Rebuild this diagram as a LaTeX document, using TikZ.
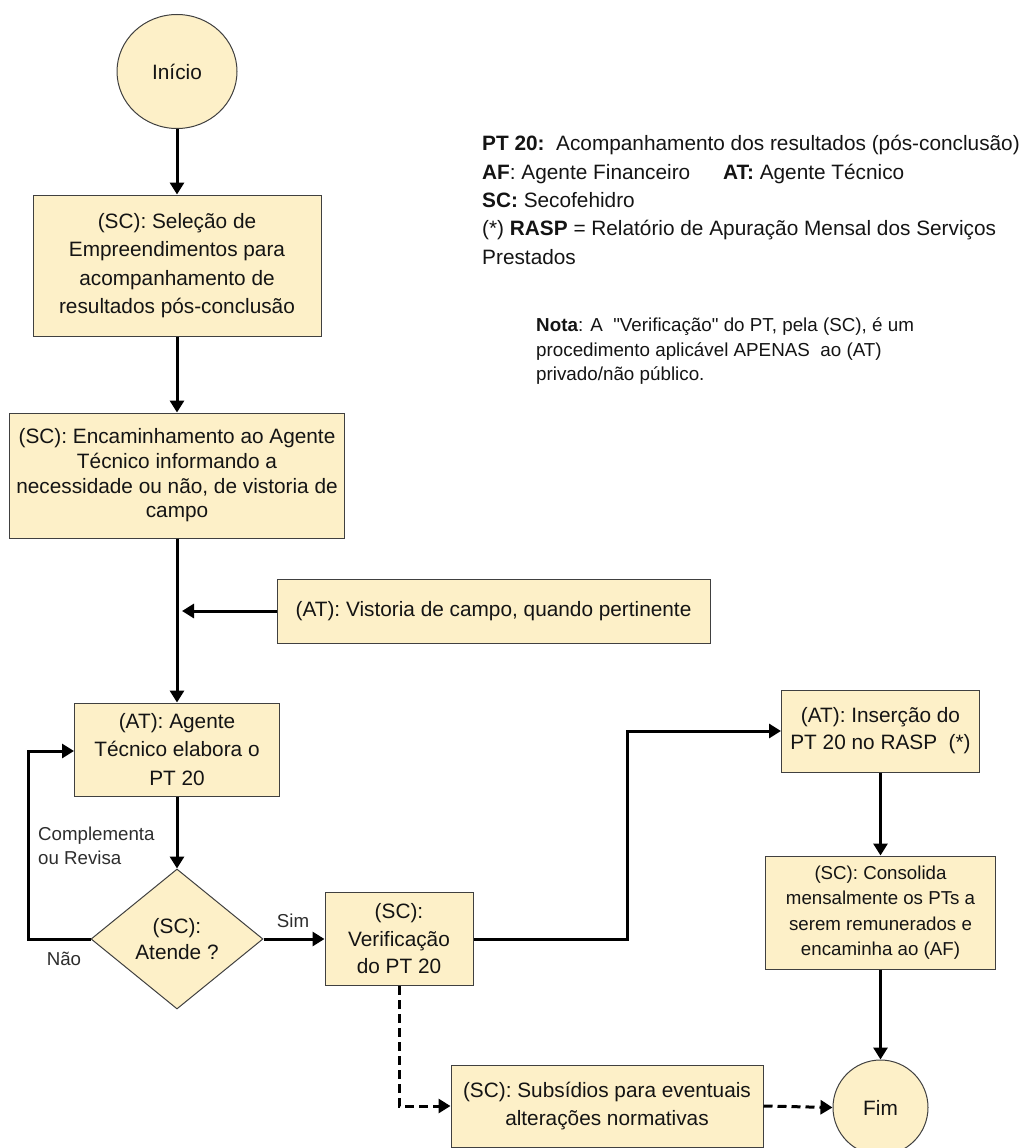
\documentclass[tikz,border=0pt]{standalone}
\usepackage{fontspec}
\setmainfont[Ligatures=TeXOff]{Liberation Sans}
\usetikzlibrary{arrows.meta,shapes.geometric}
\definecolor{boxfill}{RGB}{253,240,200}
\definecolor{edgecol}{RGB}{64,64,64}
\definecolor{txtcol}{RGB}{20,20,20}
\definecolor{lblcol}{RGB}{45,45,45}
\newcommand{\fs}[2]{\fontsize{#1}{#2}\selectfont}
\begin{document}
\begin{tikzpicture}[x=1pt,y=-1pt,
  box/.style={draw=edgecol, fill=boxfill, line width=1pt, align=center, inner sep=0pt, text=txtcol, font=\fs{20.8}{28.3}},
  term/.style={box, ellipse},
  decision/.style={box, diamond, aspect=1.23},
  conn/.style={line width=3pt, -{Triangle[length=12pt,width=14pt]}},
  dconn/.style={conn, dash pattern=on 9pt off 5pt},
  lbl/.style={text=lblcol, inner sep=0pt, font=\fs{18.7}{24}},
  leg/.style={anchor=base west, inner sep=0pt, text=txtcol, font=\fs{20.8}{28.5}},
  nota/.style={anchor=base west, inner sep=0pt, text=txtcol, font=\fs{18.8}{24.5}}]
\useasboundingbox (0,0) rectangle (1021,1148);

% nodes
\node[term, minimum width=120pt, minimum height=114pt] (start) at (177,71.5) {Início};
\node[box, minimum width=288pt, minimum height=141pt] (b1) at (177,265.5)
  {(SC): Seleção de\\Empreendimentos para\\acompanhamento de\\resultados pós-conclusão};
\node[box, minimum width=335pt, minimum height=125pt, font=\fs{20.8}{24.7}] (b2) at (177,475.5)
  {(SC): Encaminhamento ao Agente\\Técnico informando a\\necessidade ou não, de vistoria de\\campo};
\node[box, minimum width=433pt, minimum height=64pt] (vis) at (493.5,611)
  {(AT): Vistoria de campo, quando pertinente};
\node[box, minimum width=205pt, minimum height=93pt] (b3) at (177,749.5)
  {(AT): Agente\\Técnico elabora o\\PT 20};
\node[decision, minimum width=172pt, minimum height=140pt, font=\fs{20.8}{26}] (dia) at (177,939)
  {(SC):\\Atende ?};
\node[box, minimum width=148pt, minimum height=93pt, font=\fs{20.8}{27.5}] (b4) at (399,939)
  {(SC):\\Verificação\\do PT 20};
\node[box, minimum width=198pt, minimum height=82pt, font=\fs{20.8}{27}] (b5) at (880.5,731)
  {(AT): Inserção do\\PT 20 no RASP\ \ (*)};
\node[box, minimum width=230pt, minimum height=113pt, font=\fs{18.7}{25.3}] (b6) at (880.5,912.5)
  {(SC): Consolida\\mensalmente os PTs a\\serem remunerados e\\encaminha ao (AF)};
\node[box, minimum width=312pt, minimum height=82pt] (sub) at (607,1106)
  {(SC): Subsídios para eventuais\\alterações normativas};
\node[term, minimum width=95pt, minimum height=95pt] (fim) at (880.5,1107.5) {Fim};

% legend
\node[leg] (leg1) at (482,150.5) {\textbf{PT 20:}\ \ Acompanhamento dos resultados (pós-conclusão)};
\node[leg] (leg2) at (482,179.5) {\textbf{AF}: Agente Financeiro};
\node[leg] (leg2b) at (723,179.5) {\textbf{AT:} Agente Técnico};
\node[leg] (leg3) at (482,207.5) {\textbf{SC:} Secofehidro};
\node[leg] (leg4) at (482,235.5) {(*) \textbf{RASP} = Relatório de Apuração Mensal dos Serviços};
\node[leg] (leg5) at (482,264.5) {Prestados};

\node[nota] (nota1) at (536,331.5) {\textbf{Nota}: A \ "Verificação" do PT, pela (SC), é um};
\node[nota] (nota2) at (536,356) {procedimento aplicável APENAS \ ao (AT)};
\node[nota] (nota3) at (536,380) {privado/não público.};

% edge labels
\node[lbl, anchor=base west] (lc1) at (38,840) {Complementa};
\node[lbl, anchor=base west] (lc2) at (38,864) {ou Revisa};
\node[lbl, anchor=base] (lnao) at (64,965) {Não};
\node[lbl, anchor=base] (lsim) at (293,927) {Sim};

% helper coordinates
\coordinate (vj) at (182,611);
\coordinate (lp1) at (28,939);
\coordinate (lp2) at (28,751);
\coordinate (rp1) at (627,939);
\coordinate (rp2) at (627,731);

% connectors
\draw[conn] (start) -- (b1);
\draw[conn] (b1.south) -- (b1.south |- b2.north);
\draw[conn] (b2.south) -- (b2.south |- b3.north);
\draw[conn] (vis.west) -- (vj);
\draw[conn] (b3.south) -- (dia.north);
\draw[conn] (dia.west) -- (lp1) -- (lp2) -- (lp2 -| b3.west);
\draw[conn] (dia.east) -- (b4.west);
\draw[conn] (b4.east) -- (rp1) -- (rp2) -- (b5.west);
\draw[conn] (b5.south) -- (b6.north);
\draw[conn] (b6.south) -- (fim.north);
\draw[dconn] (b4.south) -- (b4.south |- sub.west) -- (sub.west);
\draw[dconn] (sub.east) -- (fim.west);
\end{tikzpicture}
\end{document}
